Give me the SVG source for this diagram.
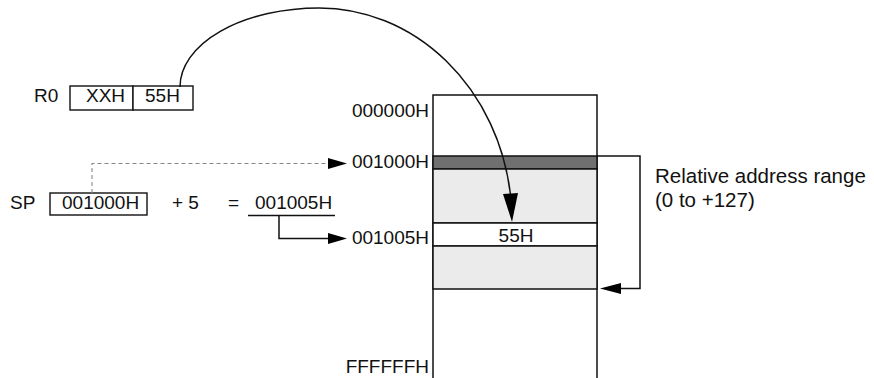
<svg xmlns="http://www.w3.org/2000/svg" width="874" height="378" viewBox="0 0 874 378">
<style>
text{font-family:"Liberation Sans",Arial,sans-serif;font-size:19px;fill:#111}
.big{font-size:20.5px}
.box{fill:#fff;stroke:#111;stroke-width:1.4}
.ln{fill:none;stroke:#111;stroke-width:1.5}
.dash{fill:none;stroke:#888;stroke-width:1.1;stroke-dasharray:4,3}
.ah{fill:#000}
.band{stroke:#111;stroke-width:1.5}
</style>
<rect width="874" height="378" fill="#fff"/>
<g id="r0">
<text x="34" y="102">R0</text>
<rect class="box" x="70" y="86" width="63" height="24"/>
<rect class="box" x="133" y="86" width="60" height="24"/>
<text x="86" y="102">XXH</text>
<text x="145" y="102">55H</text>
</g>
<g id="sp">
<text x="10" y="209">SP</text>
<rect class="box" x="50" y="193" width="97" height="22"/>
<text x="62" y="209">001000H</text>
<text x="172" y="209">+ 5</text>
<text x="228" y="209">=</text>
<text x="255" y="209">001005H</text>
<line class="ln" x1="248" y1="215.5" x2="335" y2="215.5"/>
</g>
<g id="memory">
<rect class="box band" x="433" y="95" width="164" height="290"/>
<rect class="band" x="433" y="156" width="164" height="13" fill="#707070"/>
<rect class="band" x="433" y="169" width="164" height="54" fill="#ebebeb"/>
<rect class="band" x="433" y="223" width="164" height="23" fill="#fff"/>
<rect class="band" x="433" y="246" width="164" height="43" fill="#ebebeb"/>
<text x="516" y="242" text-anchor="middle">55H</text>
</g>
<g id="labels">
<text x="429" y="117" text-anchor="end">000000H</text>
<text x="429" y="168" text-anchor="end">001000H</text>
<text x="429" y="244" text-anchor="end">001005H</text>
<text x="429" y="373" text-anchor="end">FFFFFFH</text>
</g>
<g id="range-label">
<text class="big" x="655" y="183">Relative address range</text>
<text class="big" x="655" y="207">(0 to +127)</text>
</g>
<g id="connectors">
<path class="ln" d="M180,87 A139,79 0 0 1 319,8 A193,214 0 0 1 510.4,194"/>
<polygon class="ah" points="512,222 503,194 518,193"/>
<path class="dash" d="M92,193 V163.5 H330"/>
<polygon class="ah" points="347,163.5 328,158 328,169"/>
<path class="ln" d="M279,215.5 V238.5 H330"/>
<polygon class="ah" points="347,238.5 328,233 328,244"/>
<path class="ln" d="M597,156 H640 V288.5 H618"/>
<polygon class="ah" points="600,288.5 621,283 621,294"/>
</g>
</svg>
